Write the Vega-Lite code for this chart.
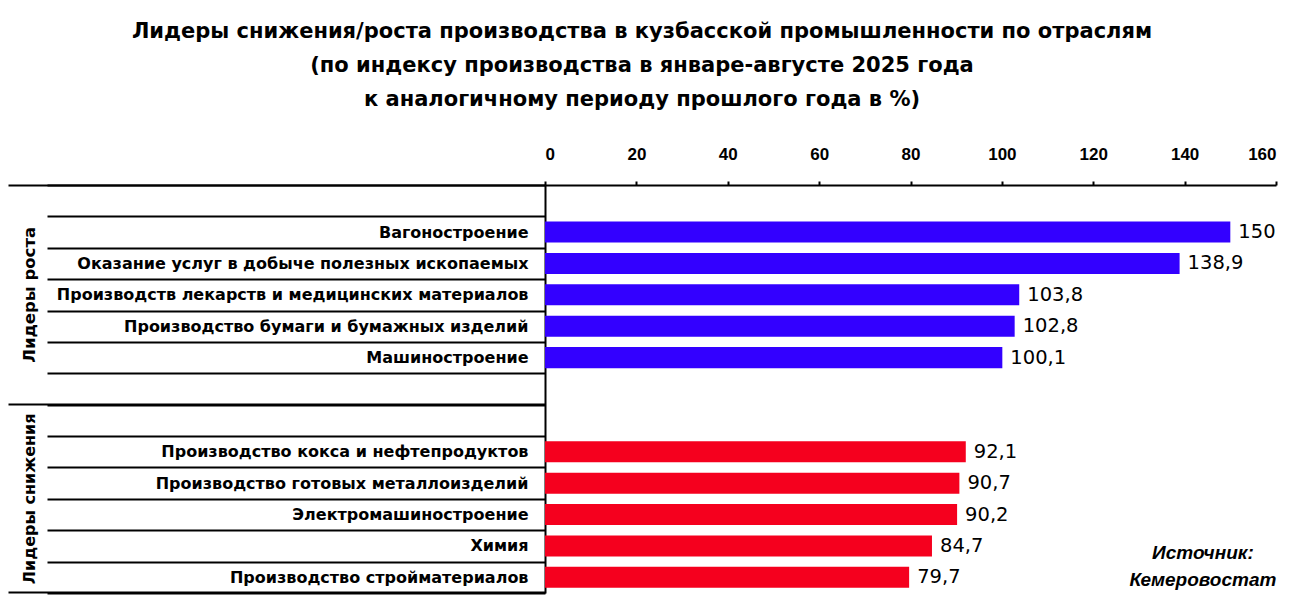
{
  "$schema": "https://vega.github.io/schema/vega-lite/v6.json",
  "width": 731,
  "height": 408,
  "autosize": {"type": "none"},
  "padding": {"left": 545, "top": 185, "right": 25, "bottom": 11},
  "background": "white",
  "config": {
    "view": {"stroke": null},
    "font": "DejaVu Sans",
    "locale": {"number": {"decimal": ",", "thousands": " ", "grouping": [3], "currency": ["", ""]}}
  },
  "title": {
    "text": [
      "Лидеры снижения/роста производства в кузбасской промышленности по отраслям",
      "(по индексу производства в январе-августе 2025 года",
      "к аналогичному периоду прошлого года в %)"
    ],
    "font": "DejaVu Sans",
    "fontSize": 21,
    "fontWeight": "bold",
    "color": "black",
    "anchor": "middle",
    "frame": "bounds",
    "lineHeight": 34,
    "offset": 35
  },
  "datasets": {
    "bars": [
      {"cat": "Вагоностроение", "value": 150, "group": "Лидеры роста"},
      {"cat": "Оказание услуг в добыче полезных ископаемых", "value": 138.9, "group": "Лидеры роста"},
      {"cat": "Производств лекарств и медицинских материалов", "value": 103.8, "group": "Лидеры роста"},
      {"cat": "Производство бумаги и бумажных изделий", "value": 102.8, "group": "Лидеры роста"},
      {"cat": "Машиностроение", "value": 100.1, "group": "Лидеры роста"},
      {"cat": "Производство кокса и нефтепродуктов", "value": 92.1, "group": "Лидеры снижения"},
      {"cat": "Производство готовых металлоизделий", "value": 90.7, "group": "Лидеры снижения"},
      {"cat": "Электромашиностроение", "value": 90.2, "group": "Лидеры снижения"},
      {"cat": "Химия", "value": 84.7, "group": "Лидеры снижения"},
      {"cat": "Производство стройматериалов", "value": 79.7, "group": "Лидеры снижения"}
    ],
    "g1": [{"cat": "Производств лекарств и медицинских материалов", "label": "Лидеры роста"}],
    "g2": [{"cat": "Электромашиностроение", "label": "Лидеры снижения"}],
    "note": [{"cat": "Производство стройматериалов", "pos": 144, "note": ["Источник:", "Кемеровостат"]}]
  },
  "resolve": {"axis": {"y": "independent", "x": "independent"}},
  "layer": [
    {
      "data": {"name": "bars"},
      "mark": {"type": "bar", "height": {"band": 0.67}},
      "encoding": {
        "y": {
          "field": "cat", "type": "nominal",
          "scale": {"domain": [" ", "Вагоностроение", "Оказание услуг в добыче полезных ископаемых", "Производств лекарств и медицинских материалов", "Производство бумаги и бумажных изделий", "Машиностроение", "  ", "   ", "Производство кокса и нефтепродуктов", "Производство готовых металлоизделий", "Электромашиностроение", "Химия", "Производство стройматериалов"], "paddingInner": 0, "paddingOuter": 0},
          "axis": {
            "orient": "left", "title": null, "grid": false,
            "tickBand": "extent", "tickSize": 498, "tickWidth": 2, "tickColor": "black",
            "domain": true, "domainWidth": 2, "domainColor": "black",
            "labelPadding": -481, "labelLimit": 600, "labelFont": "DejaVu Sans",
            "labelFontSize": 16, "labelFontWeight": "bold", "labelColor": "black",
            "labelAlign": "right", "labelBaseline": "middle"
          }
        },
        "x": {
          "field": "value", "type": "quantitative",
          "scale": {"domain": [0, 160], "nice": false},
          "axis": {
            "orient": "top", "title": null, "grid": false,
            "values": [0, 20, 40, 60, 80, 100, 120, 140, 160],
            "tickSize": 4, "tickWidth": 2, "tickColor": "black",
            "domain": true, "domainWidth": 2, "domainColor": "black",
            "labelPadding": 18, "labelFont": "Liberation Sans", "labelFontSize": 17,
            "labelFontWeight": "bold", "labelColor": "black"
          }
        },
        "color": {
          "field": "group", "type": "nominal",
          "scale": {"domain": ["Лидеры роста", "Лидеры снижения"], "range": ["#3300FF", "#F5001E"]},
          "legend": null
        }
      }
    },
    {
      "data": {"name": "bars"},
      "mark": {"type": "text", "align": "left", "baseline": "middle", "dx": 8, "fontSize": 19.5, "font": "DejaVu Sans", "color": "black"},
      "encoding": {
        "y": {"field": "cat", "type": "nominal", "axis": null},
        "x": {"field": "value", "type": "quantitative", "axis": null},
        "text": {"field": "value", "type": "quantitative", "format": ".1~f"}
      }
    },
    {
      "data": {"name": "g1"},
      "mark": {"type": "text", "angle": 270, "align": "center", "baseline": "middle", "fontSize": 16.5, "fontWeight": "bold", "font": "DejaVu Sans", "color": "black", "clip": false},
      "encoding": {
        "y": {
          "field": "cat", "type": "nominal",
          "axis": {
            "orient": "left", "title": null, "grid": false, "labels": false, "domain": false,
            "values": ["  ", "Производство стройматериалов"], "bandPosition": 1, "tickExtra": false,
            "tickSize": 537, "tickWidth": 2, "tickColor": "black"
          }
        },
        "x": {"datum": -112.7, "type": "quantitative", "axis": null},
        "text": {"field": "label"}
      }
    },
    {
      "data": {"name": "g2"},
      "mark": {"type": "text", "angle": 270, "align": "center", "baseline": "middle", "fontSize": 16, "fontWeight": "bold", "font": "DejaVu Sans", "color": "black", "clip": false},
      "encoding": {
        "y": {
          "field": "cat", "type": "nominal", "bandPosition": 0,
          "axis": {
            "orient": "left", "title": null, "grid": false, "labels": false, "domain": false,
            "values": [" "], "bandPosition": 0, "tickExtra": false,
            "tickSize": 537, "tickWidth": 2, "tickColor": "black"
          }
        },
        "x": {"datum": -112.7, "type": "quantitative", "axis": null},
        "text": {"field": "label"}
      }
    },
    {
      "data": {"name": "note"},
      "mark": {"type": "text", "align": "center", "baseline": "middle", "fontSize": 19, "fontWeight": "bold", "fontStyle": "italic", "font": "Liberation Sans", "color": "black", "lineHeight": 27, "dy": -24},
      "encoding": {
        "y": {"field": "cat", "type": "nominal", "axis": null},
        "x": {"field": "pos", "type": "quantitative", "axis": null},
        "text": {"field": "note"}
      }
    }
  ]
}
